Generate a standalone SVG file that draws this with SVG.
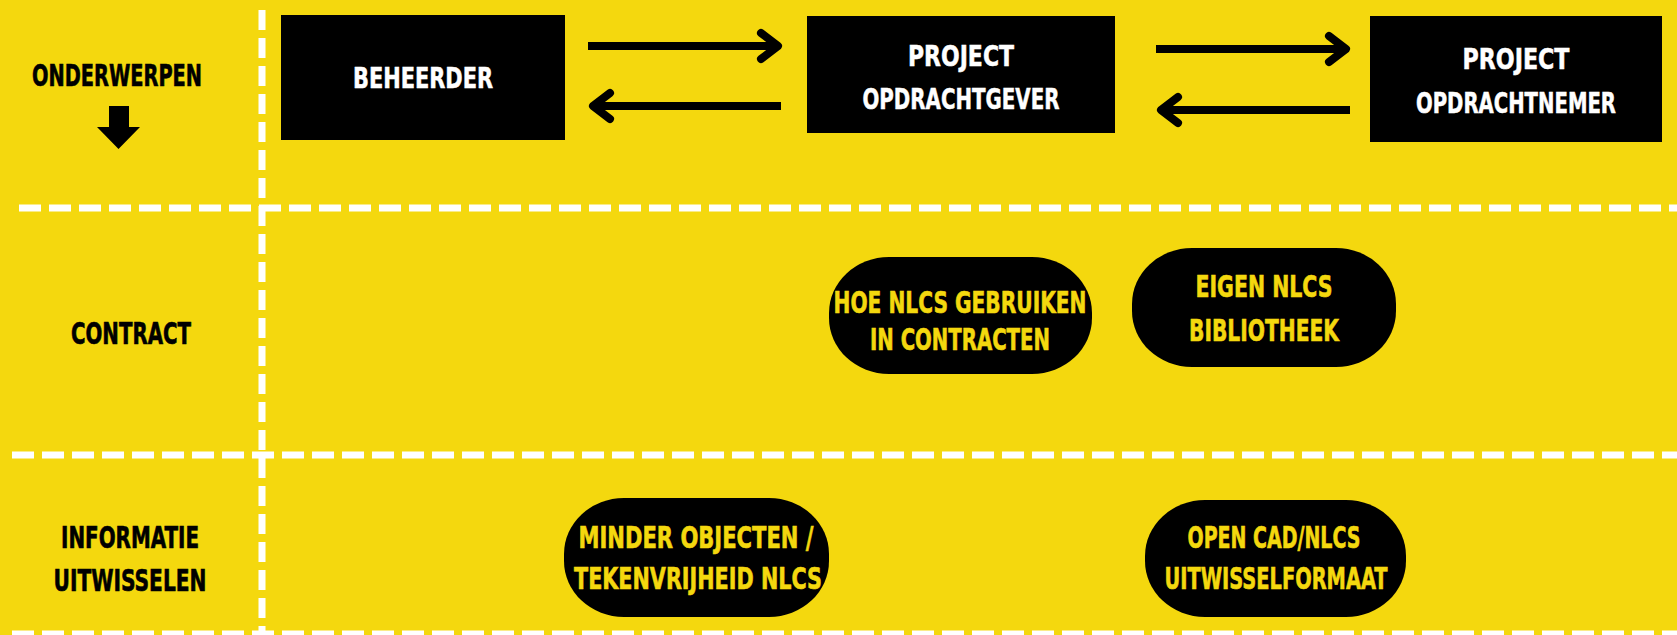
<svg xmlns="http://www.w3.org/2000/svg" width="1677" height="635" viewBox="0 0 1677 635">
<style>
.t{font-family:"DejaVu Sans","Liberation Sans",sans-serif;font-weight:bold;font-stretch:condensed;text-anchor:middle}
.lbl{font-size:30px;fill:#000;stroke:#000;stroke-width:0.6}
.box{font-size:29px;fill:#fff;stroke:#fff;stroke-width:0.5}
.pt{font-size:31px;fill:#F4D80E;stroke:#F4D80E;stroke-width:0.6}
.grid{stroke:#fff;stroke-width:7;fill:none}
.arrow{stroke:#000;stroke-width:8;fill:none}
</style>
<defs>
<marker id="chev" markerUnits="userSpaceOnUse" viewBox="-30 -20 40 40" markerWidth="40" markerHeight="40" refX="0" refY="0" orient="auto">
<path d="M-17,-13 L0,0 L-17,13" stroke="#000" stroke-width="8" fill="none" stroke-linecap="round" stroke-linejoin="round"/>
</marker>
</defs>
<rect x="0" y="0" width="1677" height="635" fill="#F4D80E"/>
<g id="grid">
<line class="grid" x1="262" y1="10" x2="262" y2="635" stroke-dasharray="20 8"/>
<line class="grid" x1="19" y1="208" x2="1677" y2="208" stroke-dasharray="22 8"/>
<line class="grid" x1="12" y1="455" x2="1677" y2="455" stroke-dasharray="22 8"/>
<line class="grid" x1="12" y1="634" x2="1677" y2="634" stroke-dasharray="22 8"/>
</g>
<g id="label-onderwerpen">
<text class="t lbl" x="117" y="86" textLength="170" lengthAdjust="spacingAndGlyphs">ONDERWERPEN</text>
<polygon points="109,106 129,106 129,127 140,127 118.5,149 97,127 109,127" fill="#000"/>
</g>
<g id="label-contract">
<text class="t lbl" x="131" y="344" textLength="120" lengthAdjust="spacingAndGlyphs">CONTRACT</text>
</g>
<g id="label-informatie">
<text class="t lbl" x="130" y="548" textLength="138" lengthAdjust="spacingAndGlyphs">INFORMATIE</text>
<text class="t lbl" x="130" y="591" textLength="153" lengthAdjust="spacingAndGlyphs">UITWISSELEN</text>
</g>
<g id="beheerder">
<rect x="281" y="15" width="284" height="125" fill="#000"/>
<text class="t box" x="423" y="88" textLength="140" lengthAdjust="spacingAndGlyphs">BEHEERDER</text>
</g>
<g id="opdrachtgever">
<rect x="807" y="16" width="308" height="117" fill="#000"/>
<text class="t box" x="961" y="66" textLength="106" lengthAdjust="spacingAndGlyphs">PROJECT</text>
<text class="t box" x="961" y="109" textLength="197" lengthAdjust="spacingAndGlyphs">OPDRACHTGEVER</text>
</g>
<g id="opdrachtnemer">
<rect x="1370" y="16" width="292" height="126" fill="#000"/>
<text class="t box" x="1516" y="69" textLength="107" lengthAdjust="spacingAndGlyphs">PROJECT</text>
<text class="t box" x="1516" y="113" textLength="200" lengthAdjust="spacingAndGlyphs">OPDRACHTNEMER</text>
</g>
<g id="connectors">
<path class="arrow" d="M588,46 L778,46" marker-end="url(#chev)"/>
<path class="arrow" d="M781,106 L593,106" marker-end="url(#chev)"/>
<path class="arrow" d="M1156,49 L1346,49" marker-end="url(#chev)"/>
<path class="arrow" d="M1350,110 L1161,110" marker-end="url(#chev)"/>
</g>
<g id="hoe-nlcs">
<rect x="829" y="257" width="263" height="117" rx="60" ry="56" fill="#000"/>
<text class="t pt" x="960" y="313" textLength="253" lengthAdjust="spacingAndGlyphs">HOE NLCS GEBRUIKEN</text>
<text class="t pt" x="960" y="350" textLength="180" lengthAdjust="spacingAndGlyphs">IN CONTRACTEN</text>
</g>
<g id="eigen-nlcs">
<rect x="1132" y="248" width="264" height="119" rx="60" ry="56" fill="#000"/>
<text class="t pt" x="1264" y="297" textLength="137" lengthAdjust="spacingAndGlyphs">EIGEN NLCS</text>
<text class="t pt" x="1264" y="341" textLength="150" lengthAdjust="spacingAndGlyphs">BIBLIOTHEEK</text>
</g>
<g id="minder-objecten">
<rect x="564" y="498" width="265" height="119" rx="60" ry="56" fill="#000"/>
<text class="t pt" x="696" y="548" textLength="235" lengthAdjust="spacingAndGlyphs">MINDER OBJECTEN /</text>
<text class="t pt" x="698" y="589" textLength="248" lengthAdjust="spacingAndGlyphs">TEKENVRIJHEID NLCS</text>
</g>
<g id="open-cad">
<rect x="1145" y="500" width="261" height="117" rx="60" ry="56" fill="#000"/>
<text class="t pt" x="1274" y="548" textLength="173" lengthAdjust="spacingAndGlyphs">OPEN CAD/NLCS</text>
<text class="t pt" x="1276" y="589" textLength="223" lengthAdjust="spacingAndGlyphs">UITWISSELFORMAAT</text>
</g>
</svg>
